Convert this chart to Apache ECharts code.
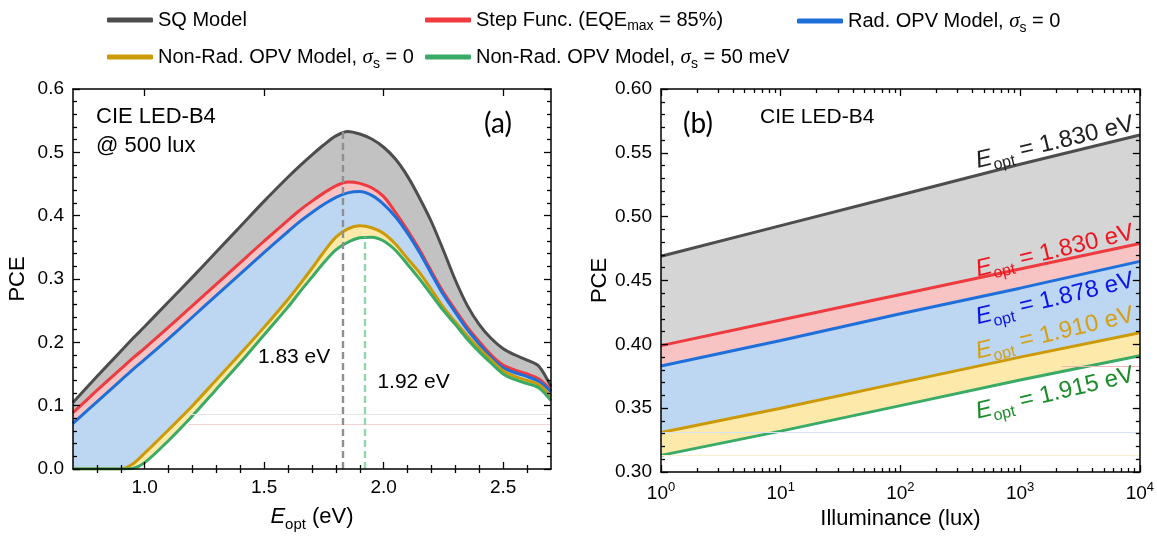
<!DOCTYPE html>
<html><head><meta charset="utf-8">
<script src="https://cdn.jsdelivr.net/npm/echarts@6/dist/echarts.min.js"></script>
<style>html,body{margin:0;padding:0;background:#fff}#c{width:1157px;height:537px}</style>
</head><body><div id="c"></div>
<script>
// ---------- Panel (a) data: PCE vs E_opt (eV) ----------
const energy   = [0.7,0.8,0.9,0.95,1.0,1.1,1.2,1.3,1.4,1.5,1.6,1.65,1.7,1.75,1.8,1.85,1.9,1.95,2.0,2.05,2.1,2.15,2.2,2.25,2.3,2.35,2.4,2.45,2.5,2.55,2.6,2.65,2.7];
const sqA      = [0.105,0.146,0.186,0.206,0.225,0.264,0.303,0.343,0.383,0.423,0.461,0.479,0.496,0.512,0.526,0.533,0.529,0.521,0.508,0.489,0.462,0.428,0.390,0.345,0.298,0.258,0.228,0.206,0.190,0.180,0.172,0.162,0.130];
const stepA    = [0.089,0.124,0.158,0.175,0.191,0.224,0.258,0.292,0.326,0.360,0.393,0.409,0.423,0.436,0.447,0.453,0.451,0.444,0.430,0.405,0.377,0.346,0.312,0.279,0.251,0.224,0.201,0.180,0.164,0.156,0.150,0.142,0.124];
const radA     = [0.072,0.106,0.140,0.157,0.173,0.206,0.240,0.274,0.308,0.342,0.375,0.391,0.405,0.418,0.429,0.436,0.438,0.432,0.418,0.398,0.372,0.342,0.308,0.275,0.247,0.220,0.197,0.176,0.160,0.152,0.146,0.138,0.122];
const nonRadA  = [0,0,0,0.008,0.025,0.062,0.100,0.141,0.182,0.224,0.268,0.292,0.317,0.343,0.366,0.379,0.384,0.381,0.372,0.355,0.332,0.310,0.283,0.255,0.232,0.210,0.190,0.172,0.155,0.146,0.140,0.133,0.114];
const nonRad50A= [0,0,0,0.001,0.010,0.045,0.084,0.126,0.168,0.212,0.256,0.280,0.303,0.326,0.346,0.358,0.365,0.366,0.360,0.345,0.323,0.300,0.275,0.250,0.228,0.205,0.185,0.167,0.150,0.141,0.135,0.128,0.108];
const peakE    = [1.83, 1.92];
const peakPCE  = [0.533, 0.366];
const xTicksA  = [1.0, 1.5, 2.0, 2.5];

// ---------- Panel (b) data: PCE vs illuminance (lux) ----------
const lux        = [1, 10, 100, 1000, 10000];
const sqB        = [0.469, 0.493, 0.517, 0.541, 0.564];
const stepB      = [0.399, 0.419, 0.439, 0.459, 0.479];
const radB       = [0.383, 0.403, 0.424, 0.444, 0.465];
const nonRadB    = [0.331, 0.350, 0.370, 0.390, 0.409];
const nonRad50B  = [0.313, 0.332, 0.352, 0.372, 0.391];
const eOptB      = ['1.830', '1.830', '1.878', '1.910', '1.915'];

const seriesNames = ['SQ Model', 'Step Func. (EQE_max = 85%)', 'Rad. OPV Model, σs = 0', 'Non-Rad. OPV Model, σs = 0', 'Non-Rad. OPV Model, σs = 50 meV'];

// ---------- styles ----------
const FONT = '"Liberation Sans", Arial, sans-serif';
const lineColors = ['#4d4d4d', '#ef3a3f', '#1f6fdb', '#cc9a06', '#3aab66'];
const labelColors = ['#222222', '#f0141e', '#0a14e6', '#d4a017', '#1a8c2a'];
const fillA = ['#c2c2c2', '#f7c3c3', '#bdd6f2', '#fde9a9', '#ffffff'];
const fillB = ['#d5d5d5', '#f7c3c3', '#bdd6f2', '#fde9a9', '#ffffff'];
const legendText = {
  'SQ Model': 'SQ Model',
  'Step Func. (EQE_max = 85%)': 'Step Func. (EQE{sub|max} = 85%)',
  'Rad. OPV Model, σs = 0': 'Rad. OPV Model, {sig|σ}{sub|s} = 0',
  'Non-Rad. OPV Model, σs = 0': 'Non-Rad. OPV Model, {sig|σ}{sub|s} = 0',
  'Non-Rad. OPV Model, σs = 50 meV': 'Non-Rad. OPV Model, {sig|σ}{sub|s} = 50 meV'
};
const legendPos = [[107, 7], [425, 7], [797, 7], [107, 43], [425, 43]];

function pairs(xs, ys) { return xs.map((x, i) => [x, ys[i]]); }

const curvesA = [sqA, stepA, radA, nonRadA, nonRad50A];
const curvesB = [sqB, stepB, radB, nonRadB, nonRad50B];

const minorEa = [];
for (let k = 8; k <= 26; k++) if (k % 5 !== 0) minorEa.push(k / 10);
const minorLux = [];
for (let e = 0; e < 4; e++) for (let m = 2; m <= 9; m++) minorLux.push(m * Math.pow(10, e));

const tickLine = { color: '#000', width: 1.3 };
const axLine = { show: true, onZero: false, lineStyle: { color: '#000', width: 1.5 } };
const labelStyle = { fontSize: 19, color: '#000', fontFamily: FONT };

function richSet(color, size) {
  return {
    i: { fontStyle: 'italic', fontSize: size, fontFamily: FONT, color: color, lineHeight: size + 8, verticalAlign: 'middle' },
    sub: { fontSize: Math.round(size * 0.68), fontFamily: FONT, color: color, lineHeight: Math.round(size * 0.68), verticalAlign: 'bottom' },
    sig: { fontStyle: 'italic', fontSize: size + 1, fontFamily: '"Liberation Serif", "DejaVu Serif", serif', color: color, lineHeight: size + 8, verticalAlign: 'middle' },
    sup: { fontSize: Math.round(size * 0.68), fontFamily: FONT, color: color, lineHeight: Math.round(size * 0.68), verticalAlign: 'top' },
    n: { fontSize: size, fontFamily: FONT, color: color, lineHeight: size + 6, verticalAlign: 'middle' }
  };
}

function xAxisSet(gi, type, min, max, majors, minors, nameOpt, labelFmt) {
  const base = { gridIndex: gi, type: type, min: min, max: max, z: 10, splitLine: { show: false } };
  if (type === 'log') base.logBase = 10;
  const bottomMajor = Object.assign({}, base, {
    position: 'bottom', axisLine: axLine,
    axisTick: { show: true, inside: true, length: 7, customValues: majors, lineStyle: tickLine },
    axisLabel: Object.assign({ customValues: majors, formatter: labelFmt, margin: 9, rich: richSet('#000', 19) }, labelStyle)
  }, nameOpt);
  const bottomMinor = Object.assign({}, base, {
    position: 'bottom', axisLine: { show: false },
    axisTick: { show: true, inside: true, length: 4, customValues: minors, lineStyle: tickLine },
    axisLabel: { show: false }
  });
  const topMajor = Object.assign({}, base, {
    position: 'top', axisLine: axLine,
    axisTick: { show: true, inside: true, length: 7, customValues: majors, lineStyle: tickLine },
    axisLabel: { show: false }
  });
  const topMinor = Object.assign({}, base, {
    position: 'top', axisLine: { show: false },
    axisTick: { show: true, inside: true, length: 4, customValues: minors, lineStyle: tickLine },
    axisLabel: { show: false }
  });
  return [bottomMajor, bottomMinor, topMajor, topMinor];
}

function yAxisSet(gi, min, max, interval, digits) {
  const base = {
    gridIndex: gi, type: 'value', min: min, max: max, interval: interval, z: 10,
    splitLine: { show: false }, axisLine: axLine,
    axisTick: { show: true, inside: true, length: 7, lineStyle: tickLine },
    minorTick: { show: true, splitNumber: 5, length: 4, lineStyle: tickLine },
    minorSplitLine: { show: false }
  };
  const left = Object.assign({}, base, {
    position: 'left',
    axisLabel: Object.assign({ formatter: v => v.toFixed(digits), margin: 9 }, labelStyle),
    name: 'PCE', nameLocation: 'middle', nameGap: 44,
    nameTextStyle: { fontSize: 22, color: '#000', fontFamily: FONT }
  });
  const right = Object.assign({}, base, { position: 'right', axisLabel: { show: false } });
  return [left, right];
}

const nameTextA = {
  name: '{i|E}{sub|opt}{n| (eV)}', nameLocation: 'middle', nameGap: 33,
  nameTextStyle: { fontSize: 22, color: '#000', fontFamily: FONT, rich: richSet('#000', 22) }
};
const nameTextB = {
  name: 'Illuminance (lux)', nameLocation: 'middle', nameGap: 36,
  nameTextStyle: { fontSize: 22, color: '#000', fontFamily: FONT }
};

const xAxes = []
  .concat(xAxisSet(0, 'value', 0.7, 2.7, xTicksA, minorEa, nameTextA, v => v.toFixed(1)))
  .concat(xAxisSet(1, 'log', 1, 10000, lux, minorLux, nameTextB, v => '{n|10}{sup|' + Math.round(Math.log10(v)) + '}'));
const yAxes = [].concat(yAxisSet(0, 0, 0.6, 0.1, 1)).concat(yAxisSet(1, 0.3, 0.6, 0.05, 2));

const series = [];
// Panel (a) fills (drawn from top curve down, each covering the previous below it)
curvesA.forEach((c, k) => series.push({
  type: 'line', name: '_fa' + k, xAxisIndex: 0, yAxisIndex: 0, data: pairs(energy, c),
  smooth: 0.3, symbol: 'none', silent: true, z: 1,
  lineStyle: { width: 0 }, areaStyle: { color: fillA[k], opacity: 1, origin: 'start' }
}));
// Panel (b) fills
curvesB.forEach((c, k) => series.push({
  type: 'line', name: '_fb' + k, xAxisIndex: 4, yAxisIndex: 2, data: pairs(lux, c),
  symbol: 'none', silent: true, z: 1,
  lineStyle: { width: 0 }, areaStyle: { color: fillB[k], opacity: 1, origin: 'start' }
}));
// faint baseline artefacts
series.push({
  type: 'line', name: '_faintA', xAxisIndex: 0, yAxisIndex: 0, data: [], silent: true, z: 2,
  markLine: {
    symbol: 'none', silent: true, label: { show: false }, animation: false,
    data: [
      [{ coord: [1.18, 0.087], lineStyle: { color: '#e4e4e4', width: 1, type: 'solid' } }, { coord: [2.7, 0.087] }],
      [{ coord: [1.18, 0.0705], lineStyle: { color: '#f8d2d2', width: 1, type: 'solid' } }, { coord: [2.7, 0.0705] }]
    ]
  }
});
series.push({
  type: 'line', name: '_faintB', xAxisIndex: 4, yAxisIndex: 2, data: [], silent: true, z: 2,
  markLine: {
    symbol: 'none', silent: true, label: { show: false }, animation: false,
    data: [
      [{ coord: [2200, 0.383], lineStyle: { color: '#f2b5b5', width: 1, type: 'solid' } }, { coord: [10000, 0.383] }],
      [{ coord: [1, 0.331], lineStyle: { color: '#d3e2f4', width: 1, type: 'solid' } }, { coord: [10000, 0.331] }],
      [{ coord: [1, 0.313], lineStyle: { color: '#fbefd2', width: 1, type: 'solid' } }, { coord: [10000, 0.313] }]
    ]
  }
});
// Panel (a) lines
curvesA.forEach((c, k) => series.push({
  type: 'line', name: seriesNames[k], xAxisIndex: 0, yAxisIndex: 0, data: pairs(energy, c),
  smooth: 0.3, symbol: 'none', z: 3, color: lineColors[k],
  lineStyle: { width: 3, color: lineColors[k] }, itemStyle: { color: lineColors[k] }
}));
// Panel (b) lines
curvesB.forEach((c, k) => series.push({
  type: 'line', name: seriesNames[k], xAxisIndex: 4, yAxisIndex: 2, data: pairs(lux, c),
  symbol: 'none', z: 3, color: lineColors[k],
  lineStyle: { width: 3, color: lineColors[k] }, itemStyle: { color: lineColors[k] }
}));
// dashed peak markers + annotations in (a)
series.push({
  type: 'line', name: '_peaks', xAxisIndex: 0, yAxisIndex: 0, z: 5, silent: true,
  data: pairs(peakE, peakPCE), symbol: 'none', lineStyle: { opacity: 0 },
  markLine: {
    symbol: 'none', silent: true, label: { show: false }, animation: false,
    data: [
      [{ coord: [peakE[0], 0], lineStyle: { color: '#8f8f8f', width: 2.4, type: [7, 4] } }, { coord: [peakE[0], peakPCE[0]] }],
      [{ coord: [peakE[1], 0], lineStyle: { color: '#8fd6ad', width: 2.4, type: [7, 4] } }, { coord: [peakE[1], peakPCE[1]] }]
    ]
  },
  markPoint: {
    symbol: 'circle', symbolSize: 0, silent: true, animation: false,
    label: { show: true, position: 'inside', formatter: '{b}', fontSize: 21, color: '#000', fontFamily: FONT },
    data: [
      { name: peakE[0].toFixed(2) + ' eV', coord: [1.625, 0.176] },
      { name: peakE[1].toFixed(2) + ' eV', coord: [2.125, 0.137] }
    ]
  }
});
// rotated E_opt labels in (b)
const labelPCE = [0.558, 0.473, 0.4355, 0.4085, 0.3615];
series.push({
  type: 'line', name: '_labelsB', xAxisIndex: 4, yAxisIndex: 2, z: 6, silent: true,
  data: [], symbol: 'none',
  markPoint: {
    symbol: 'circle', symbolSize: 0, silent: true, animation: false,
    label: { show: true, position: 'inside', rotate: 13.5, formatter: p => '{i|E}{sub|opt}{n| = ' + p.name + ' eV}' },
    data: eOptB.map((e, k) => ({
      name: e, coord: [1950, labelPCE[k]],
      label: { color: labelColors[k], fontSize: 24, fontFamily: FONT, rich: richSet(labelColors[k], 24) }
    }))
  }
});

const legends = seriesNames.map((n, i) => ({
  data: [n], left: legendPos[i][0], top: legendPos[i][1], padding: 0,
  icon: 'roundRect', itemWidth: 46, itemHeight: 5, selectedMode: false,
  formatter: name => legendText[name],
  textStyle: { fontSize: 20, fontFamily: FONT, color: '#000', lineHeight: 26, rich: Object.assign(richSet('#000', 20), { n: { fontSize: 20, lineHeight: 26 } }) }
}));

const chart = echarts.init(document.getElementById('c'), null, { renderer: 'canvas' });
chart.setOption({
  animation: false,
  backgroundColor: '#fff',
  textStyle: { fontFamily: FONT },
  grid: [
    { left: 73, top: 89, width: 478, height: 383 },
    { left: 661, top: 89, width: 482, height: 383 }
  ],
  legend: legends,
  xAxis: xAxes,
  yAxis: yAxes,
  series: series,
  graphic: [
    { type: 'text', x: 96, y: 117, z: 20, style: { text: 'CIE LED-B4', font: '22px "Liberation Sans"', fill: '#000', textVerticalAlign: 'middle' } },
    { type: 'text', x: 96, y: 146, z: 20, style: { text: '@ 500 lux', font: '22px "Liberation Sans"', fill: '#000', textVerticalAlign: 'middle' } },
    { type: 'text', x: 498, y: 124, z: 20, style: { text: '(a)', font: '28px Lato', fill: '#000', textAlign: 'center', textVerticalAlign: 'middle' } },
    { type: 'text', x: 698, y: 124, z: 20, style: { text: '(b)', font: '28px Lato', fill: '#000', textAlign: 'center', textVerticalAlign: 'middle' } },
    { type: 'text', x: 760, y: 117, z: 20, style: { text: 'CIE LED-B4', font: '21px "Liberation Sans"', fill: '#000', textVerticalAlign: 'middle' } }
  ]
});
</script>
</body></html>
